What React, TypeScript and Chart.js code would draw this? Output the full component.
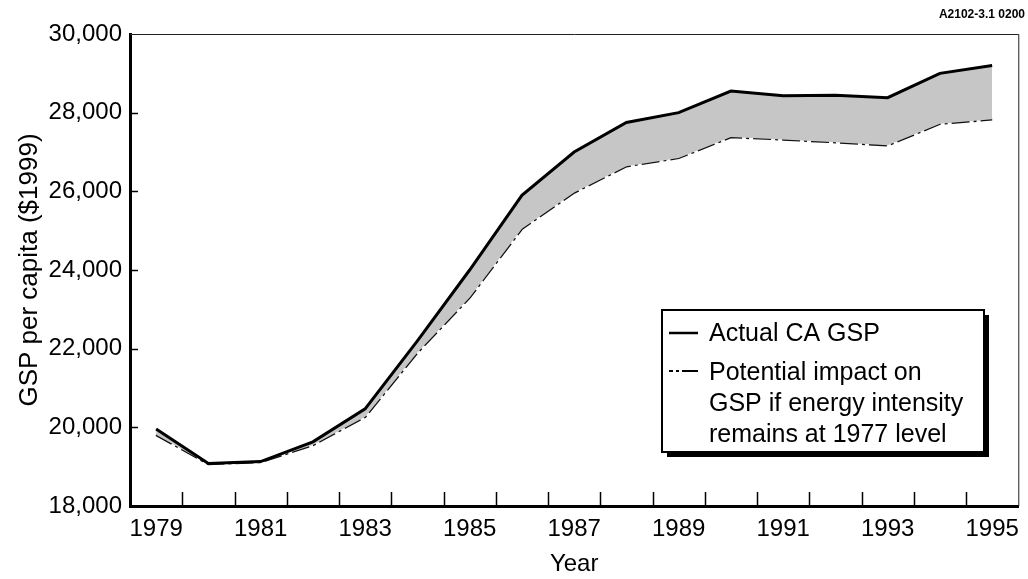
import React, { useEffect, useRef } from 'react';
import { Chart, registerables } from 'chart.js';

Chart.register(...registerables);

const years = ['1979', '1980', '1981', '1982', '1983', '1984', '1985', '1986', '1987', '1988', '1989', '1990', '1991', '1992', '1993', '1994', '1995'];
const actualGSP = [19960, 19080, 19130, 19630, 20470, 22200, 24000, 25900, 27000, 27750, 28000, 28550, 28430, 28440, 28380, 29000, 29200];
const potentialGSP = [19810, 19070, 19120, 19550, 20270, 21900, 23300, 25050, 25970, 26640, 26850, 27380, 27320, 27250, 27170, 27720, 27830];
const yTicks = [18000, 20000, 22000, 24000, 26000, 28000, 30000];
const legendLines = ['Actual CA GSP', 'Potential impact on', 'GSP if energy intensity', 'remains at 1977 level'];
const yTitle = 'GSP per capita ($1999)';
const xTitle = 'Year';
const cornerCode = 'A2102-3.1 0200';

const FONT = '"Liberation Sans", Arial, Helvetica, sans-serif';

const decorPlugin = {
  id: 'decor',
  afterDraw(chart: any) {
    const { ctx, chartArea, scales } = chart;
    const xs = scales.x;
    const ys = scales.y;
    ctx.save();
    // thin frame top & right
    ctx.strokeStyle = '#222';
    ctx.lineWidth = 1;
    ctx.beginPath();
    ctx.moveTo(chartArea.left, chartArea.top + 0.5);
    ctx.lineTo(chartArea.right + 0.5, chartArea.top + 0.5);
    ctx.lineTo(chartArea.right + 0.5, chartArea.bottom);
    ctx.stroke();
    // inward x ticks at category boundaries
    ctx.strokeStyle = '#000';
    ctx.lineWidth = 1.5;
    for (let i = 0; i < years.length - 1; i++) {
      const bx = Math.round((xs.getPixelForValue(i) + xs.getPixelForValue(i + 1)) / 2) + 0.5;
      ctx.beginPath();
      ctx.moveTo(bx, chartArea.bottom);
      ctx.lineTo(bx, chartArea.bottom - 14);
      ctx.stroke();
    }
    // inward y ticks
    for (const v of yTicks) {
      if (v === yTicks[0] || v === yTicks[yTicks.length - 1]) continue;
      const y = Math.round(ys.getPixelForValue(v)) + 0.5;
      ctx.beginPath();
      ctx.moveTo(chartArea.left, y);
      ctx.lineTo(chartArea.left + 8, y);
      ctx.stroke();
    }
    // legend box with shadow
    const L = 662, T = 310, R = 984, B = 452;
    ctx.fillStyle = '#000';
    ctx.fillRect(L + 5, T + 5, R - L, B - T);
    ctx.fillStyle = '#fff';
    ctx.fillRect(L, T, R - L, B - T);
    ctx.strokeStyle = '#000';
    ctx.lineWidth = 2;
    ctx.strokeRect(L, T, R - L, B - T);
    // samples
    ctx.lineWidth = 2.5;
    ctx.beginPath();
    ctx.moveTo(669, 333);
    ctx.lineTo(698, 333);
    ctx.stroke();
    ctx.lineWidth = 2;
    ctx.beginPath();
    ctx.moveTo(669, 371); ctx.lineTo(673, 371);
    ctx.moveTo(676, 371); ctx.lineTo(679, 371);
    ctx.moveTo(682, 371); ctx.lineTo(698, 371);
    ctx.stroke();
    // legend text
    ctx.fillStyle = '#000';
    ctx.font = '25px ' + FONT;
    ctx.textAlign = 'left';
    ctx.textBaseline = 'alphabetic';
    const baselines = [341, 380, 411, 442];
    legendLines.forEach((t, i) => ctx.fillText(t, 709, baselines[i]));
    // corner code
    ctx.font = 'bold 12px ' + FONT;
    ctx.textAlign = 'right';
    ctx.fillText(cornerCode, 1025, 18);
    ctx.restore();
  },
};

export default function App() {
  const ref = useRef<HTMLCanvasElement | null>(null);
  useEffect(() => {
    if (!ref.current) return;
    const chart = new Chart(ref.current, {
      type: 'line',
      data: {
        labels: years,
        datasets: [
          {
            label: legendLines[0],
            data: actualGSP,
            borderColor: '#000',
            borderWidth: 3,
            pointRadius: 0,
            tension: 0,
            fill: '+1',
            backgroundColor: '#c6c6c6',
          },
          {
            label: legendLines.slice(1).join(' '),
            data: potentialGSP,
            borderColor: '#111',
            borderWidth: 2.5,
            borderDash: [18, 4, 3, 4],
            pointRadius: 0,
            tension: 0,
            fill: false,
          },
        ],
      },
      options: {
        responsive: false,
        devicePixelRatio: 1,
        animation: false,
        layout: { padding: { top: 34, right: 5, left: 0, bottom: 0 } },
        plugins: { legend: { display: false }, tooltip: { enabled: false } },
        scales: {
          x: {
            type: 'category',
            offset: true,
            grid: { display: true, drawOnChartArea: false, drawTicks: false, offset: true },
            border: { display: true, width: 3, color: '#000' },
            ticks: {
              autoSkip: false,
              maxRotation: 0,
              minRotation: 0,
              padding: 9,
              color: '#000',
              font: { family: FONT, size: 24 },
              callback: (_v: any, i: number) => (i % 2 === 0 ? years[i] : ''),
            },
            title: { display: true, text: xTitle, color: '#000', font: { family: FONT, size: 24 }, padding: { top: 0, bottom: 0 } },
            afterFit: (s: any) => { s.height = 73; },
          },
          y: {
            min: 18000,
            max: 30000,
            grid: { display: true, drawOnChartArea: false, drawTicks: false },
            border: { display: true, width: 3, color: '#000' },
            ticks: {
              stepSize: 2000,
              padding: 8,
              color: '#000',
              font: { family: FONT, size: 24 },
              callback: (v: any) => Number(v).toLocaleString('en-US'),
            },
            title: { display: true, text: yTitle, color: '#000', font: { family: FONT, size: 26 }, padding: { top: 14, bottom: 0 } },
            afterFit: (s: any) => { s.width = 130; },
          },
        },
      },
      plugins: [decorPlugin],
    });
    return () => chart.destroy();
  }, []);
  return (
    <div style={{ position: 'fixed', left: 0, top: 0, width: 1028, height: 579, background: '#fff' }}>
      <canvas ref={ref} width={1028} height={579} style={{ display: 'block' }} />
    </div>
  );
}
